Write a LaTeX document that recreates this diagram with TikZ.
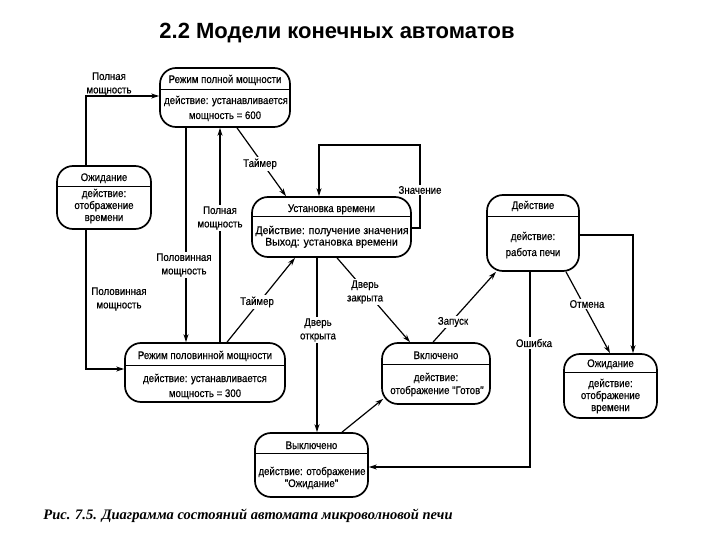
\documentclass[tikz,border=0pt]{standalone}
\usepackage{fontspec}
\setmainfont{Liberation Sans}
\newfontfamily\boxfont[FakeStretch=0.88,FakeBold=0.5]{Liberation Sans}
\newfontfamily\boxwide[FakeStretch=0.96,FakeBold=0.5]{Liberation Sans}
\newfontfamily\capfont{Liberation Serif}
\usetikzlibrary{arrows.meta}
\tikzset{
  state/.style={draw, line width=1.7pt, rounded corners=16pt, inner sep=0pt, fill=white},
  divider/.style={line width=0.9pt},
  txt/.style={font=\boxfont\fontsize{11}{12}\selectfont, inner sep=0pt, anchor=base},
  txtbig/.style={txt, font=\boxwide\fontsize{11}{12}\selectfont},
  lbl/.style={font=\boxfont\fontsize{11}{13.5}\selectfont, inner sep=1.5pt, align=center, fill=white},
  lblfree/.style={font=\boxfont\fontsize{11}{13.5}\selectfont, inner sep=0pt, align=center},
  conn/.style={line width=1.2pt, -{Stealth[length=8pt,width=5pt]}},
}
\begin{document}
\begin{tikzpicture}[x=1pt,y=-1pt]
\fill[white] (0,0) rectangle (720,540);
\useasboundingbox (0,0) rectangle (720,540);

% title
\node[font=\fontsize{22}{24}\selectfont\bfseries, inner sep=0pt] (title) at (337,33) {2.2 Модели конечных автоматов};

% states
\node[state, minimum width=130, minimum height=59] (full) at (225,97.5) {};
\node[state, minimum width=94, minimum height=63] (waitA) at (104,197.5) {};
\node[state, minimum width=159, minimum height=60] (set) at (331.5,227) {};
\node[state, minimum width=92, minimum height=76] (act) at (533,233) {};
\node[state, minimum width=93, minimum height=64] (waitB) at (610.5,386) {};
\node[state, minimum width=160, minimum height=59] (half) at (205,372.5) {};
\node[state, minimum width=108, minimum height=61] (on) at (436,373.5) {};
\node[state, minimum width=113, minimum height=64] (off) at (311.5,465) {};

% dividers
\draw[divider] (full.west |- 0,89) -- (full.east |- 0,89);
\draw[divider] (waitA.west |- 0,186) -- (waitA.east |- 0,186);
\draw[divider] (set.west |- 0,216) -- (set.east |- 0,216);
\draw[divider] (act.west |- 0,216) -- (act.east |- 0,216);
\draw[divider] (waitB.west |- 0,372) -- (waitB.east |- 0,372);
\draw[divider] (half.west |- 0,365) -- (half.east |- 0,365);
\draw[divider] (on.west |- 0,364) -- (on.east |- 0,364);
\draw[divider] (off.west |- 0,453) -- (off.east |- 0,453);

% texts in states
\node[txt] (full-t) at (225,83) {Режим полной мощности};
\node[txt] (full-a1) at (226,104) {действие: устанавливается};
\node[txt] (full-a2) at (225,119) {мощность = 600};

\node[txt] (waitA-t) at (104,181) {Ожидание};
\node[txt] (waitA-a1) at (104,197) {действие:};
\node[txt] (waitA-a2) at (104,209) {отображение};
\node[txt] (waitA-a3) at (104,221) {времени};

\node[txt] (set-t) at (331.5,212) {Установка времени};
\node[txtbig] (set-a1) at (332,234) {Действие: получение значения};
\node[txtbig] (set-a2) at (331.5,245.5) {Выход: установка времени};

\node[txt] (act-t) at (533,209) {Действие};
\node[txt] (act-a1) at (533,240) {действие:};
\node[txt] (act-a2) at (533,256) {работа печи};

\node[txt] (waitB-t) at (610.5,367) {Ожидание};
\node[txt] (waitB-a1) at (610.5,387) {действие:};
\node[txt] (waitB-a2) at (610.5,399) {отображение};
\node[txt] (waitB-a3) at (610.5,411) {времени};

\node[txt] (half-t) at (205,359) {Режим половинной мощности};
\node[txt] (half-a1) at (205,382) {действие: устанавливается};
\node[txt] (half-a2) at (205,397) {мощность = 300};

\node[txt] (on-t) at (436,359) {Включено};
\node[txt] (on-a1) at (436,381) {действие:};
\node[txt] (on-a2) at (437,394) {отображение "Готов"};

\node[txt] (off-t) at (311.5,449) {Выключено};
\node[txt] (off-a1) at (312,475) {действие: отображение};
\node[txt] (off-a2) at (311.5,487) {"Ожидание"};

% bend points
\coordinate (bA) at (86,96);
\coordinate (bB) at (86,369);
\coordinate (bL1) at (420,228);
\coordinate (bL2) at (420,145);
\coordinate (bL3) at (319,145);
\coordinate (bR) at (633,235);
\coordinate (bE) at (530,467);

% connectors
\draw[conn] (86,0 |- waitA.north) -- (bA) -- (full.west |- bA);
\draw[conn] (86,0 |- waitA.south) -- (bB) -- (half.west |- bB);
\draw[conn] (186,0 |- full.south) -- (186,0 |- half.north);
\draw[conn] (220,0 |- half.north) -- (220,0 |- full.south);
\draw[conn] (237,0 |- full.south) -- (286,0 |- set.north);
\draw[conn] (227,0 |- half.north) -- (295,0 |- set.south);
\draw[conn] (set.east |- bL1) -- (bL1) -- (bL2) -- (bL3) -- (bL3 |- set.north);
\draw[conn] (337,0 |- set.south) -- (410,0 |- on.north);
\draw[conn] (317,0 |- set.south) -- (317,0 |- off.north);
\draw[conn] (433,0 |- on.north) -- (496,0 |- act.south);
\draw[conn] (566,0 |- act.south) -- (610,0 |- waitB.north);
\draw[conn] (act.east |- bR) -- (bR) -- (bR |- waitB.north);
\draw[conn] (530,0 |- act.south) -- (bE) -- (off.east |- bE);
\draw[conn] (342,0 |- off.north) -- ([xshift=2pt,yshift=6pt]on.south west);

% labels
\node[lblfree] (l1) at (109,84) {Полная\\мощность};
\node[lblfree] (l2) at (119,299) {Половинная\\мощность};
\node[lbl] (l3) at (184,265) {Половинная\\мощность};
\node[lbl] (l4) at (220,218) {Полная\\мощность};
\node[lbl] (l5) at (260,164) {Таймер};
\node[lbl] (l6) at (257,302) {Таймер};
\node[lbl] (l7) at (420,190) {Значение};
\node[lbl] (l8) at (365,292) {Дверь\\закрыта};
\node[lbl] (l9) at (318,330) {Дверь\\открыта};
\node[lbl] (l10) at (453,322) {Запуск};
\node[lbl] (l11) at (587,304) {Отмена};
\node[lbl] (l12) at (534,343) {Ошибка};

% caption
\node[font=\capfont\bfseries\itshape\fontsize{14.5}{16}\selectfont, inner sep=0pt] (cap) at (248,516) {Рис. 7.5. Диаграмма состояний автомата микроволновой печи};
\end{tikzpicture}
\end{document}
